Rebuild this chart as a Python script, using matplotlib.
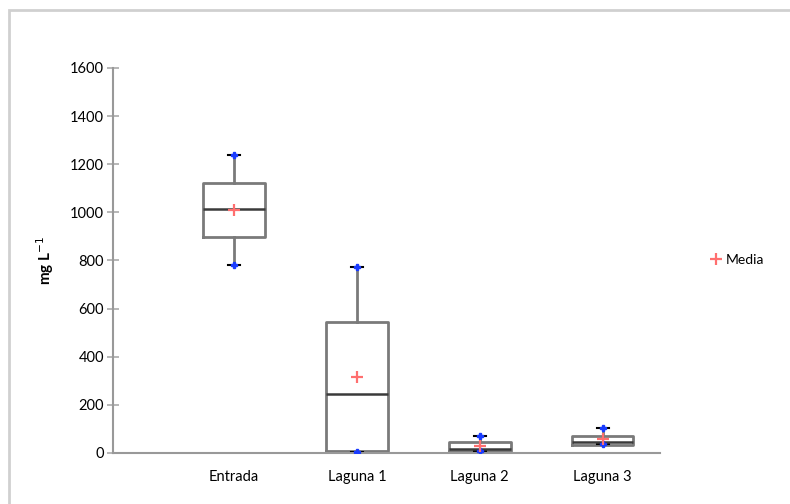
import matplotlib
matplotlib.use('Agg')
import matplotlib.pyplot as plt
from matplotlib.patches import Rectangle

# box plot statistics (mg/L)
categories = ['Entrada', 'Laguna 1', 'Laguna 2', 'Laguna 3']
minimos = [781, 5, 10, 36]
q1 = [898, 8, 8, 33]
medianas = [1012, 245, 16, 44]
q3 = [1122, 545, 46, 72]
maximos = [1237, 773, 72, 102]
medias = [1010, 316, 30, 57]
yticks = [0, 200, 400, 600, 800, 1000, 1200, 1400, 1600]

plt.rcParams['font.family'] = ['Lato', 'DejaVu Sans']

fig = plt.figure(figsize=(7.9, 5.04), dpi=100)
ax = fig.add_axes([0.143, 0.1012, 0.692, 0.764])

pos = list(range(1, len(categories) + 1))
stats = []
for i, c in enumerate(categories):
    stats.append({'label': c, 'whislo': minimos[i], 'q1': q1[i], 'med': medianas[i],
                  'q3': q3[i], 'whishi': maximos[i], 'fliers': []})

ax.bxp(stats, positions=pos, widths=0.5, showfliers=False, capwidths=0.1,
       boxprops=dict(color='#7a7a7a', linewidth=2),
       whiskerprops=dict(color='#7a7a7a', linewidth=2),
       capprops=dict(color='black', linewidth=1.5),
       medianprops=dict(color='#3a3a3a', linewidth=1.8))

ax.plot(pos, maximos, 'P', color='#1a3cff', markersize=4, linestyle='none', zorder=4)
ax.plot(pos, minimos, 'P', color='#1a3cff', markersize=4, linestyle='none', zorder=4)
ax.plot(pos, medias, '+', color='#ff6f6f', markersize=8, markeredgewidth=1.6,
        linestyle='none', zorder=5, label='Media')

ax.set_xlim(0.016, 4.463)
ax.set_ylim(0, 1600)
ax.set_yticks(yticks)
ax.set_xticks(pos)
ax.set_xticklabels(categories)

for s in ['top', 'right']:
    ax.spines[s].set_visible(False)
for s in ['left', 'bottom']:
    ax.spines[s].set_color('#999999')
    ax.spines[s].set_linewidth(1.5)

ax.tick_params(axis='y', direction='inout', length=9, width=1.2, color='#aaaaaa',
               labelsize=10.5, pad=2)
ax.tick_params(axis='x', length=0, labelsize=10.5, pad=12)
ax.set_ylabel('mg L$^{-1}$', fontsize=11, fontweight='bold', labelpad=10)

fig.legend(handles=[ax.lines[-1]], labels=['Media'], loc='center left',
           bbox_to_anchor=(0.885, 0.485), frameon=False, fontsize=10,
           handlelength=0.6, handletextpad=0.4)

# grey frame around the chart
fig.patches.append(Rectangle((0.011, -0.05), 1.2, 1.03, transform=fig.transFigure,
                             fill=False, edgecolor='#d0d0d0', linewidth=2))

fig.savefig('out.png', dpi=100)
